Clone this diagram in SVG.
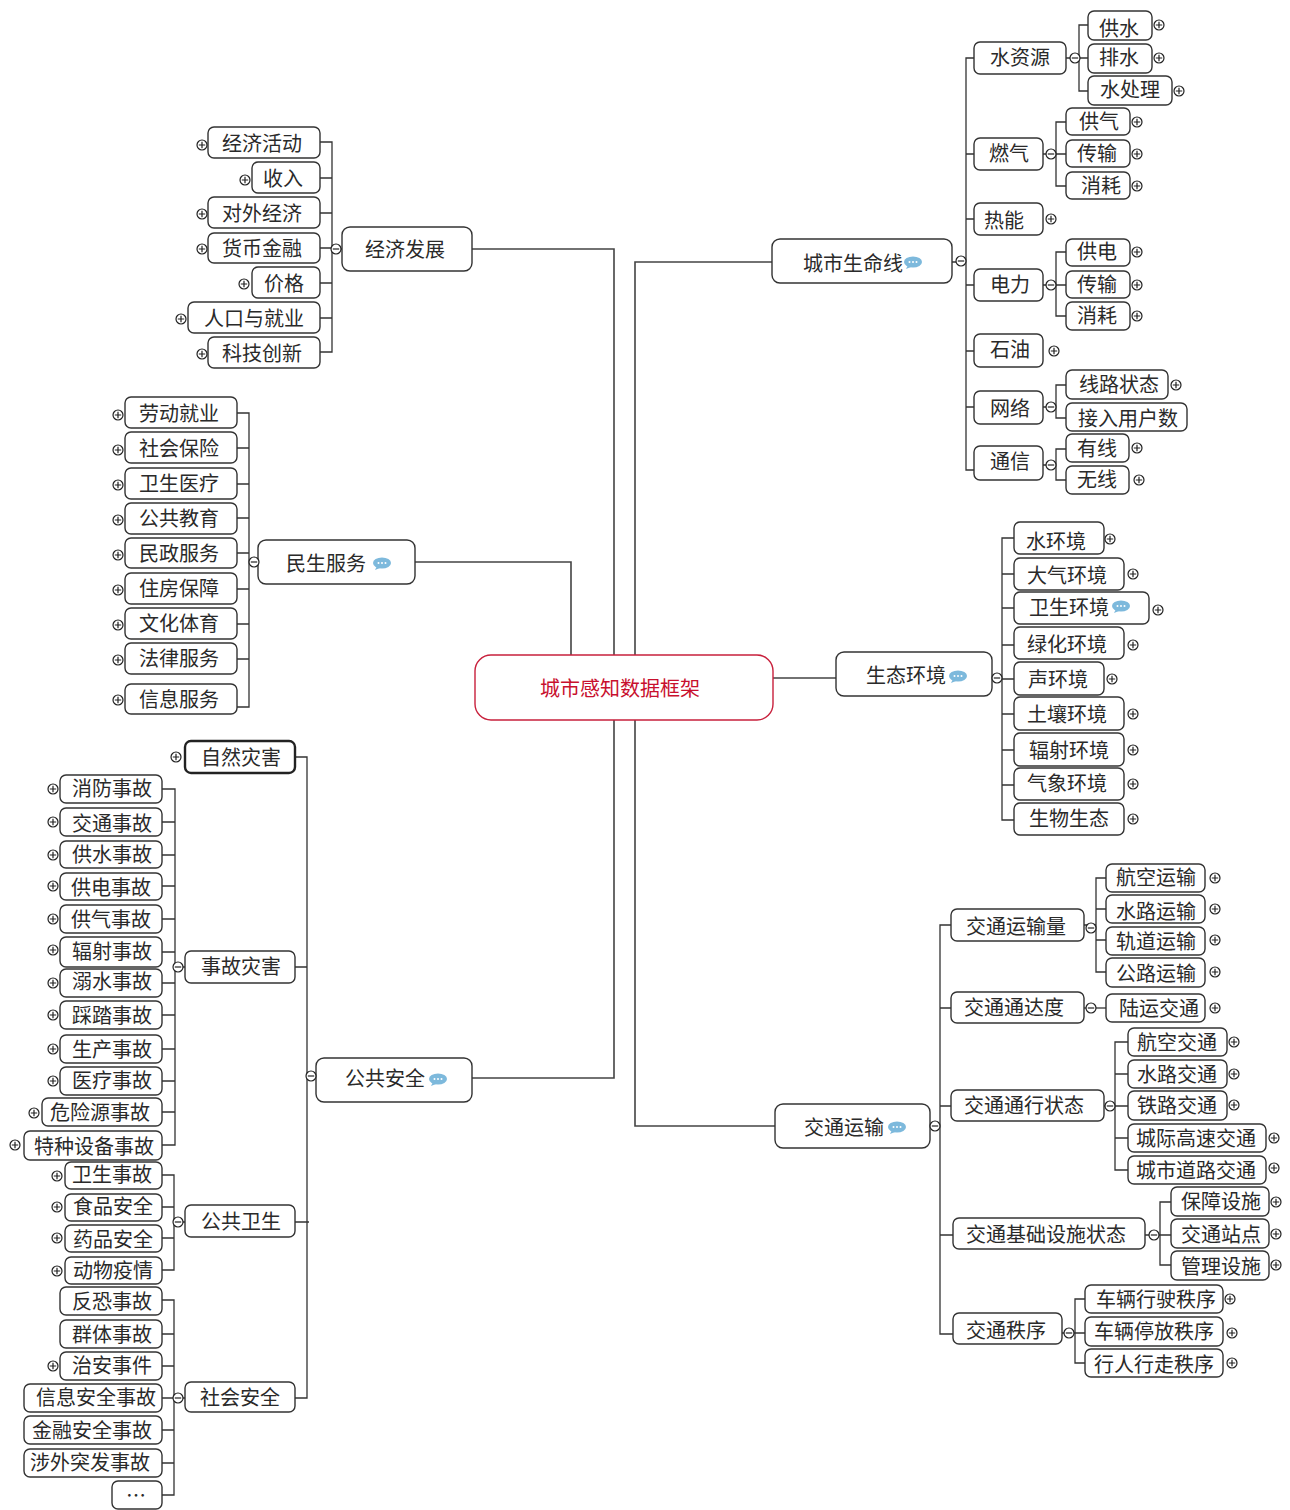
<svg xmlns="http://www.w3.org/2000/svg" width="1290" height="1510" viewBox="0 0 1290 1510">
<style>
text{font-family:"Noto Sans CJK SC","Noto Sans CJK JP",sans-serif;font-size:20px;fill:#2a2a2a;text-anchor:middle;font-weight:400;transform:translateY(1px)}
rect.n{fill:#fff;stroke:#333;stroke-width:1.4}
rect.b{fill:#fff;stroke:#222;stroke-width:2.4}
rect.r{fill:#fff;stroke:#c8203c;stroke-width:1.4}
text.r{fill:#c8102e}
path.c{fill:none;stroke:#333;stroke-width:1.3}
path.t{fill:none;stroke:#444;stroke-width:1.6}
.g{fill:#fff;stroke:#222;stroke-width:1.2}
</style>
<defs>
<g id="p"><circle class="g" r="5"/><path class="g" d="M-3.2 0H3.2M0-3.2V3.2"/></g>
<g id="m"><circle class="g" r="5"/><path class="g" d="M-3.2 0H3.2"/></g>
<g id="u"><ellipse rx="9" ry="5.5" fill="#7db9dc"/><path d="M-5 3L-7 7L-2 5Z" fill="#7db9dc"/><circle cx="-3.5" r="1" fill="#fff"/><circle r="1" fill="#fff"/><circle cx="3.5" r="1" fill="#fff"/></g>
</defs>
<g id="connectors">
<path class="t" d="M472 249H614V655M415 562H571V655M472 1078H614V720M772 262H635V655M773 678H836M775 1126H635V720"/>
<path class="c" d="M342 249H332M320 142H332V352H320M320 178H332M320 213H332M320 248H332M320 283H332M320 318H332"/>
<path class="c" d="M258 562H249M237 413H249V707H237M237 448H249M237 484H249M237 518H249M237 553H249M237 589H249M237 624H249M237 659H249"/>
<path class="c" d="M316 1078H307M295 757H307V1398H295M295 967H307M295 1222H309"/>
<path class="c" d="M185 967H175M162 789H175V1145H162M162 822H175M162 855H175M162 886H175M162 919H175M162 952H175M162 983H175M162 1015H175M162 1049H175M162 1081H175M162 1112H175"/>
<path class="c" d="M185 1222H174M162 1175H174V1270H162M162 1207H174M162 1238H174"/>
<path class="c" d="M185 1398H174M162 1300H174V1495H162M162 1334H174M162 1366H174M162 1398H174M162 1430H174M162 1463H174"/>
<path class="c" d="M952 262H966M974 58H966V470H974M974 154H966M974 219H966M974 285H966M974 351H966M974 407H966"/>
<path class="c" d="M1066 58H1088M1088 25H1079V91H1088"/>
<path class="c" d="M1043 154H1066M1066 122H1056V186H1066"/>
<path class="c" d="M1043 285H1066M1066 252H1056V316H1066"/>
<path class="c" d="M1043 407H1056M1066 385H1056V418H1066"/>
<path class="c" d="M1043 465H1056M1066 449H1056V480H1066"/>
<path class="c" d="M992 678H1002M1014 538H1002V820H1014M1014 574H1002M1014 608H1002M1014 645H1002M1014 679H1002M1014 714H1002M1014 750H1002M1014 785H1002"/>
<path class="c" d="M930 1126H940M951 925H940V1334H953M951 1008H940M951 1106H940M953 1235H940"/>
<path class="c" d="M1084 925H1096M1106 878H1096V972H1106M1106 909H1096M1106 940H1096"/>
<path class="c" d="M1084 1008H1106"/>
<path class="c" d="M1104 1106H1128M1128 1042H1115V1170H1128M1128 1074H1115M1128 1138H1115"/>
<path class="c" d="M1145 1235H1171M1171 1202H1160V1265H1171"/>
<path class="c" d="M1062 1333H1085M1085 1299H1075V1363H1085"/>
</g>
<g id="root"><rect class="r" x="475" y="655" width="298" height="65" rx="16"/><text class="r" x="620" y="695">城市感知数据框架</text></g>
<g id="n-jjfz"><rect class="n" x="342" y="227" width="130" height="44" rx="8"/><text x="405" y="256">经济发展</text><use href="#m" x="336" y="249"/></g>
<g id="n-jjhd"><rect class="n" x="208" y="127" width="112" height="31" rx="6"/><text x="262" y="150">经济活动</text><use href="#p" x="202" y="145"/></g>
<g id="n-sr"><rect class="n" x="252" y="162" width="68" height="31" rx="6"/><text x="283" y="185">收入</text><use href="#p" x="245" y="180"/></g>
<g id="n-dwjj"><rect class="n" x="208" y="197" width="112" height="31" rx="6"/><text x="262" y="220">对外经济</text><use href="#p" x="202" y="214"/></g>
<g id="n-hbjr"><rect class="n" x="208" y="233" width="112" height="30" rx="6"/><text x="262" y="255">货币金融</text><use href="#p" x="202" y="249"/></g>
<g id="n-jg"><rect class="n" x="252" y="267" width="68" height="31" rx="6"/><text x="284" y="290">价格</text><use href="#p" x="244" y="284"/></g>
<g id="n-rkjy"><rect class="n" x="188" y="302" width="132" height="31" rx="6"/><text x="254" y="325">人口与就业</text><use href="#p" x="181" y="319"/></g>
<g id="n-kjcx"><rect class="n" x="208" y="337" width="112" height="31" rx="6"/><text x="262" y="360">科技创新</text><use href="#p" x="202" y="354"/></g>
<g id="n-msfw"><rect class="n" x="258" y="540" width="157" height="44" rx="8"/><text x="326" y="570">民生服务</text><use href="#u" x="382" y="563"/><use href="#m" x="254" y="562"/></g>
<g id="n-ldjy"><rect class="n" x="125" y="397" width="112" height="31" rx="6"/><text x="179" y="420">劳动就业</text><use href="#p" x="118" y="415"/></g>
<g id="n-shbx"><rect class="n" x="125" y="432" width="112" height="31" rx="6"/><text x="179" y="455">社会保险</text><use href="#p" x="118" y="450"/></g>
<g id="n-wsyl"><rect class="n" x="125" y="468" width="112" height="31" rx="6"/><text x="179" y="490">卫生医疗</text><use href="#p" x="118" y="485"/></g>
<g id="n-ggjy"><rect class="n" x="125" y="503" width="112" height="31" rx="6"/><text x="179" y="525">公共教育</text><use href="#p" x="118" y="520"/></g>
<g id="n-mzfw"><rect class="n" x="125" y="538" width="112" height="30" rx="6"/><text x="179" y="560">民政服务</text><use href="#p" x="118" y="555"/></g>
<g id="n-zfbz"><rect class="n" x="125" y="573" width="112" height="31" rx="6"/><text x="179" y="595">住房保障</text><use href="#p" x="118" y="590"/></g>
<g id="n-whty"><rect class="n" x="125" y="608" width="112" height="31" rx="6"/><text x="179" y="630">文化体育</text><use href="#p" x="118" y="625"/></g>
<g id="n-flfw"><rect class="n" x="125" y="643" width="112" height="31" rx="6"/><text x="179" y="665">法律服务</text><use href="#p" x="118" y="660"/></g>
<g id="n-xxfw"><rect class="n" x="125" y="684" width="112" height="30" rx="6"/><text x="179" y="706">信息服务</text><use href="#p" x="118" y="700"/></g>
<g id="n-ggaq"><rect class="n" x="316" y="1058" width="156" height="44" rx="8"/><text x="385" y="1085">公共安全</text><use href="#u" x="438" y="1079"/><use href="#m" x="311" y="1076"/></g>
<g id="n-zrzh"><rect class="b" x="185" y="741" width="110" height="32" rx="6"/><text x="241" y="764">自然灾害</text><use href="#p" x="176" y="757"/></g>
<g id="n-sgzh"><rect class="n" x="185" y="951" width="110" height="32" rx="6"/><text x="241" y="973">事故灾害</text><use href="#m" x="178" y="967"/></g>
<g id="n-ggws"><rect class="n" x="185" y="1205" width="110" height="32" rx="6"/><text x="241" y="1228">公共卫生</text><use href="#m" x="178" y="1222"/></g>
<g id="n-shaq"><rect class="n" x="185" y="1382" width="110" height="30" rx="6"/><text x="240" y="1404">社会安全</text><use href="#m" x="178" y="1398"/></g>
<g id="n-xf"><rect class="n" x="60" y="775" width="102" height="28" rx="6"/><text x="112" y="795">消防事故</text><use href="#p" x="53" y="789"/></g>
<g id="n-jt"><rect class="n" x="60" y="808" width="102" height="28" rx="6"/><text x="112" y="830">交通事故</text><use href="#p" x="53" y="822"/></g>
<g id="n-gs"><rect class="n" x="60" y="841" width="102" height="27" rx="6"/><text x="112" y="861">供水事故</text><use href="#p" x="53" y="855"/></g>
<g id="n-gd"><rect class="n" x="60" y="873" width="102" height="27" rx="6"/><text x="111" y="894">供电事故</text><use href="#p" x="53" y="886"/></g>
<g id="n-gq"><rect class="n" x="60" y="905" width="102" height="28" rx="6"/><text x="111" y="926">供气事故</text><use href="#p" x="53" y="919"/></g>
<g id="n-fs"><rect class="n" x="60" y="937" width="102" height="30" rx="6"/><text x="112" y="958">辐射事故</text><use href="#p" x="53" y="950"/></g>
<g id="n-ns"><rect class="n" x="60" y="969" width="102" height="28" rx="6"/><text x="112" y="988">溺水事故</text><use href="#p" x="53" y="983"/></g>
<g id="n-tt"><rect class="n" x="60" y="1001" width="102" height="28" rx="6"/><text x="112" y="1022">踩踏事故</text><use href="#p" x="53" y="1015"/></g>
<g id="n-sc"><rect class="n" x="60" y="1035" width="102" height="28" rx="6"/><text x="112" y="1056">生产事故</text><use href="#p" x="53" y="1049"/></g>
<g id="n-yl"><rect class="n" x="60" y="1067" width="102" height="28" rx="6"/><text x="112" y="1087">医疗事故</text><use href="#p" x="53" y="1081"/></g>
<g id="n-wxy"><rect class="n" x="42" y="1098" width="120" height="28" rx="6"/><text x="100" y="1119">危险源事故</text><use href="#p" x="34" y="1113"/></g>
<g id="n-tz"><rect class="n" x="24" y="1131" width="138" height="29" rx="6"/><text x="94" y="1153">特种设备事故</text><use href="#p" x="15" y="1145"/></g>
<g id="n-wssg"><rect class="n" x="65" y="1162" width="97" height="27" rx="6"/><text x="112" y="1181">卫生事故</text><use href="#p" x="57" y="1176"/></g>
<g id="n-sp"><rect class="n" x="65" y="1194" width="97" height="27" rx="6"/><text x="113" y="1213">食品安全</text><use href="#p" x="57" y="1207"/></g>
<g id="n-yp"><rect class="n" x="65" y="1225" width="97" height="27" rx="6"/><text x="113" y="1246">药品安全</text><use href="#p" x="57" y="1238"/></g>
<g id="n-dw"><rect class="n" x="65" y="1257" width="97" height="27" rx="6"/><text x="113" y="1277">动物疫情</text><use href="#p" x="57" y="1271"/></g>
<g id="n-fk"><rect class="n" x="60" y="1287" width="102" height="28" rx="6"/><text x="112" y="1308">反恐事故</text></g>
<g id="n-qt"><rect class="n" x="60" y="1320" width="102" height="28" rx="6"/><text x="112" y="1341">群体事故</text></g>
<g id="n-za"><rect class="n" x="60" y="1352" width="102" height="28" rx="6"/><text x="112" y="1372">治安事件</text><use href="#p" x="53" y="1366"/></g>
<g id="n-xxaq"><rect class="n" x="24" y="1384" width="138" height="28" rx="6"/><text x="96" y="1404">信息安全事故</text></g>
<g id="n-jraq"><rect class="n" x="24" y="1416" width="138" height="28" rx="6"/><text x="92" y="1437">金融安全事故</text></g>
<g id="n-swtf"><rect class="n" x="24" y="1449" width="138" height="28" rx="6"/><text x="90" y="1469">涉外突发事故</text></g>
<g id="n-more"><rect class="n" x="112" y="1481" width="50" height="28" rx="6"/><text x="136" y="1502">…</text></g>
<g id="n-csmx"><rect class="n" x="772" y="239" width="180" height="44" rx="8"/><text x="853" y="270">城市生命线</text><use href="#u" x="913" y="262"/><use href="#m" x="961" y="261"/></g>
<g id="n-szy"><rect class="n" x="974" y="42" width="92" height="32" rx="6"/><text x="1020" y="64">水资源</text><use href="#m" x="1075" y="58"/></g>
<g id="n-gs2"><rect class="n" x="1088" y="11" width="64" height="29" rx="6"/><text x="1119" y="35">供水</text><use href="#p" x="1159" y="25"/></g>
<g id="n-ps"><rect class="n" x="1088" y="44" width="64" height="29" rx="6"/><text x="1119" y="64">排水</text><use href="#p" x="1159" y="58"/></g>
<g id="n-scl"><rect class="n" x="1088" y="76" width="84" height="29" rx="6"/><text x="1130" y="96">水处理</text><use href="#p" x="1179" y="91"/></g>
<g id="n-rq"><rect class="n" x="974" y="138" width="69" height="32" rx="6"/><text x="1009" y="160">燃气</text><use href="#m" x="1051" y="154"/></g>
<g id="n-gq2"><rect class="n" x="1066" y="108" width="64" height="27" rx="6"/><text x="1099" y="128">供气</text><use href="#p" x="1137" y="122"/></g>
<g id="n-cs1"><rect class="n" x="1066" y="140" width="64" height="27" rx="6"/><text x="1097" y="160">传输</text><use href="#p" x="1137" y="154"/></g>
<g id="n-xh1"><rect class="n" x="1066" y="172" width="64" height="27" rx="6"/><text x="1101" y="192">消耗</text><use href="#p" x="1137" y="186"/></g>
<g id="n-rn"><rect class="n" x="974" y="203" width="69" height="32" rx="6"/><text x="1004" y="227">热能</text><use href="#p" x="1051" y="219"/></g>
<g id="n-dl"><rect class="n" x="974" y="269" width="69" height="32" rx="6"/><text x="1010" y="291">电力</text><use href="#m" x="1051" y="285"/></g>
<g id="n-gd2"><rect class="n" x="1066" y="239" width="64" height="27" rx="6"/><text x="1097" y="258">供电</text><use href="#p" x="1137" y="252"/></g>
<g id="n-cs2"><rect class="n" x="1066" y="271" width="64" height="27" rx="6"/><text x="1097" y="291">传输</text><use href="#p" x="1137" y="285"/></g>
<g id="n-xh2"><rect class="n" x="1066" y="302" width="64" height="28" rx="6"/><text x="1097" y="322">消耗</text><use href="#p" x="1137" y="316"/></g>
<g id="n-sy"><rect class="n" x="974" y="334" width="69" height="33" rx="6"/><text x="1010" y="356">石油</text><use href="#p" x="1054" y="351"/></g>
<g id="n-wl"><rect class="n" x="974" y="391" width="69" height="33" rx="6"/><text x="1010" y="415">网络</text><use href="#m" x="1051" y="407"/></g>
<g id="n-xlzt"><rect class="n" x="1066" y="370" width="102" height="29" rx="6"/><text x="1119" y="391">线路状态</text><use href="#p" x="1176" y="385"/></g>
<g id="n-jryh"><rect class="n" x="1066" y="403" width="121" height="28" rx="6"/><text x="1128" y="425">接入用户数</text></g>
<g id="n-tx"><rect class="n" x="974" y="446" width="69" height="34" rx="6"/><text x="1010" y="468">通信</text><use href="#m" x="1051" y="465"/></g>
<g id="n-yx"><rect class="n" x="1066" y="434" width="63" height="28" rx="6"/><text x="1097" y="455">有线</text><use href="#p" x="1137" y="448"/></g>
<g id="n-wx"><rect class="n" x="1066" y="466" width="63" height="28" rx="6"/><text x="1097" y="486">无线</text><use href="#p" x="1139" y="480"/></g>
<g id="n-sthj"><rect class="n" x="836" y="652" width="156" height="44" rx="8"/><text x="906" y="682">生态环境</text><use href="#u" x="958" y="676"/><use href="#m" x="997" y="678"/></g>
<g id="n-shj"><rect class="n" x="1014" y="522" width="90" height="32" rx="6"/><text x="1056" y="548">水环境</text><use href="#p" x="1110" y="539"/></g>
<g id="n-dqhj"><rect class="n" x="1014" y="558" width="110" height="32" rx="6"/><text x="1067" y="582">大气环境</text><use href="#p" x="1133" y="574"/></g>
<g id="n-wshj"><rect class="n" x="1014" y="592" width="135" height="32" rx="6"/><text x="1069" y="614">卫生环境</text><use href="#u" x="1121" y="606"/><use href="#p" x="1158" y="610"/></g>
<g id="n-lhhj"><rect class="n" x="1014" y="627" width="110" height="32" rx="6"/><text x="1067" y="651">绿化环境</text><use href="#p" x="1133" y="645"/></g>
<g id="n-shengh"><rect class="n" x="1014" y="662" width="90" height="33" rx="6"/><text x="1058" y="686">声环境</text><use href="#p" x="1112" y="679"/></g>
<g id="n-trhj"><rect class="n" x="1014" y="697" width="110" height="33" rx="6"/><text x="1067" y="721">土壤环境</text><use href="#p" x="1133" y="714"/></g>
<g id="n-fshj"><rect class="n" x="1014" y="733" width="110" height="33" rx="6"/><text x="1069" y="757">辐射环境</text><use href="#p" x="1133" y="750"/></g>
<g id="n-qxhj"><rect class="n" x="1014" y="768" width="110" height="32" rx="6"/><text x="1067" y="790">气象环境</text><use href="#p" x="1133" y="784"/></g>
<g id="n-swst"><rect class="n" x="1014" y="803" width="110" height="32" rx="6"/><text x="1069" y="825">生物生态</text><use href="#p" x="1133" y="819"/></g>
<g id="n-jtys"><rect class="n" x="775" y="1104" width="155" height="44" rx="8"/><text x="844" y="1134">交通运输</text><use href="#u" x="897" y="1127"/><use href="#m" x="935" y="1126"/></g>
<g id="n-jtysl"><rect class="n" x="951" y="909" width="133" height="32" rx="6"/><text x="1016" y="933">交通运输量</text><use href="#m" x="1091" y="928"/></g>
<g id="n-hkys"><rect class="n" x="1106" y="864" width="99" height="28" rx="6"/><text x="1156" y="884">航空运输</text><use href="#p" x="1215" y="878"/></g>
<g id="n-slys"><rect class="n" x="1106" y="895" width="99" height="28" rx="6"/><text x="1156" y="918">水路运输</text><use href="#p" x="1215" y="909"/></g>
<g id="n-gdys"><rect class="n" x="1106" y="927" width="99" height="28" rx="6"/><text x="1156" y="948">轨道运输</text><use href="#p" x="1215" y="940"/></g>
<g id="n-glys"><rect class="n" x="1106" y="958" width="99" height="29" rx="6"/><text x="1156" y="980">公路运输</text><use href="#p" x="1215" y="972"/></g>
<g id="n-jttdd"><rect class="n" x="951" y="992" width="133" height="31" rx="6"/><text x="1014" y="1014">交通通达度</text><use href="#m" x="1091" y="1008"/></g>
<g id="n-lyjt"><rect class="n" x="1106" y="994" width="99" height="28" rx="6"/><text x="1159" y="1015">陆运交通</text><use href="#p" x="1215" y="1008"/></g>
<g id="n-jtxzt"><rect class="n" x="951" y="1090" width="153" height="31" rx="6"/><text x="1024" y="1112">交通通行状态</text><use href="#m" x="1110" y="1106"/></g>
<g id="n-hkjt"><rect class="n" x="1128" y="1028" width="99" height="28" rx="6"/><text x="1177" y="1049">航空交通</text><use href="#p" x="1234" y="1042"/></g>
<g id="n-sljt"><rect class="n" x="1128" y="1060" width="99" height="28" rx="6"/><text x="1177" y="1081">水路交通</text><use href="#p" x="1234" y="1074"/></g>
<g id="n-tljt"><rect class="n" x="1128" y="1091" width="99" height="29" rx="6"/><text x="1177" y="1112">铁路交通</text><use href="#p" x="1234" y="1105"/></g>
<g id="n-cjgs"><rect class="n" x="1128" y="1124" width="138" height="28" rx="6"/><text x="1196" y="1145">城际高速交通</text><use href="#p" x="1274" y="1138"/></g>
<g id="n-csdl"><rect class="n" x="1128" y="1156" width="138" height="28" rx="6"/><text x="1196" y="1177">城市道路交通</text><use href="#p" x="1274" y="1168"/></g>
<g id="n-jcss"><rect class="n" x="953" y="1218" width="192" height="31" rx="6"/><text x="1046" y="1241">交通基础设施状态</text><use href="#m" x="1154" y="1235"/></g>
<g id="n-bzss"><rect class="n" x="1171" y="1187" width="98" height="29" rx="6"/><text x="1221" y="1208">保障设施</text><use href="#p" x="1276" y="1202"/></g>
<g id="n-jtzd"><rect class="n" x="1171" y="1219" width="98" height="29" rx="6"/><text x="1221" y="1241">交通站点</text><use href="#p" x="1276" y="1234"/></g>
<g id="n-glss"><rect class="n" x="1171" y="1251" width="98" height="29" rx="6"/><text x="1221" y="1273">管理设施</text><use href="#p" x="1276" y="1265"/></g>
<g id="n-jtzx"><rect class="n" x="953" y="1313" width="109" height="31" rx="6"/><text x="1006" y="1337">交通秩序</text><use href="#m" x="1069" y="1333"/></g>
<g id="n-clxs"><rect class="n" x="1085" y="1285" width="138" height="28" rx="6"/><text x="1156" y="1306">车辆行驶秩序</text><use href="#p" x="1230" y="1299"/></g>
<g id="n-cltf"><rect class="n" x="1085" y="1317" width="138" height="29" rx="6"/><text x="1154" y="1338">车辆停放秩序</text><use href="#p" x="1232" y="1333"/></g>
<g id="n-xrxz"><rect class="n" x="1085" y="1349" width="138" height="28" rx="6"/><text x="1154" y="1371">行人行走秩序</text><use href="#p" x="1232" y="1363"/></g>
</svg>
